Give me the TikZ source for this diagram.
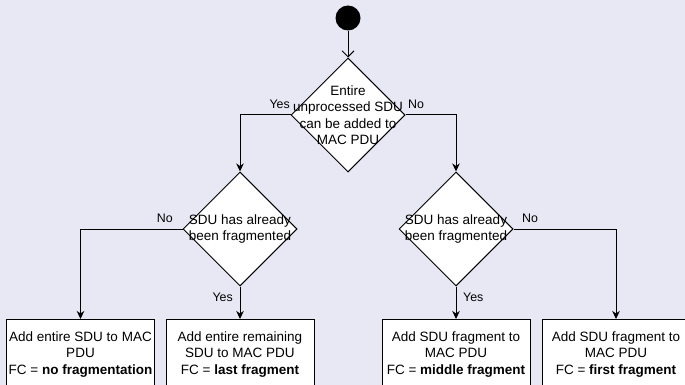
\documentclass[tikz,border=0pt]{standalone}
\usepackage{fontspec}
\setmainfont{Liberation Sans}
\usetikzlibrary{arrows.meta,shapes.geometric}
\definecolor{canvas}{RGB}{232,232,245}
\tikzset{
  flow/.style={line width=1pt, draw=black},
  arr/.style={flow, -{Stealth[length=8pt, width=7.5pt, inset=2.5pt]}},
  openarr/.style={flow, -{Straight Barb[length=6pt, width=12pt]}},
  decision/.style={diamond, draw=black, fill=white, line width=1pt,
    minimum width=114pt, minimum height=114pt, inner sep=0pt},
  dtext/.style={align=center, font=\fontsize{13.5}{16.5}\selectfont, inner sep=0pt},
  action/.style={rectangle, draw=black, fill=white, line width=1pt,
    minimum width=148pt, minimum height=70pt, inner sep=0pt, anchor=north,
    align=center, font=\fontsize{13.5}{16.5}\selectfont},
  lbl/.style={font=\fontsize{12.4}{14}\selectfont, inner sep=0pt}
}
\begin{document}
\begin{tikzpicture}[x=1pt, y=-1pt]
  \fill[canvas] (0,0) rectangle (685,385);
  \clip (0,0) rectangle (685,385);

  % start marker
  \node[circle, fill=black, minimum size=25pt, inner sep=0pt] (start) at (348,18) {};

  % decisions
  \node[decision] (d1) at (348,115) {};
  \node[dtext] (t1) at (348,115) {Entire\\unprocessed SDU\\can be added to\\MAC PDU};
  \node[decision] (d2) at (240,229) {};
  \node[dtext] (t2) at (240,229) {SDU has already\\been fragmented};
  \node[decision] (d3) at (456,229) {};
  \node[dtext] (t3) at (456,229) {SDU has already\\been fragmented};

  % actions
  \node[action] (b1) at (80.5,319) {Add entire SDU to MAC\\PDU\\FC = \textbf{no fragmentation}};
  \node[action] (b2) at (240,319) {Add entire remaining\\SDU to MAC PDU\\FC = \textbf{last fragment}};
  \node[action] (b3) at (456,319) {Add SDU fragment to\\MAC PDU\\FC = \textbf{middle fragment}};
  \node[action] (b4) at (616,319) {Add SDU fragment to\\MAC PDU\\FC = \textbf{first fragment}};

  % connectors
  \draw[openarr] (start) -- (d1.north);
  \draw[arr] (d1.west) -| (d2.north);
  \draw[arr] (d1.east) -| (d3.north);
  \draw[arr] (d2.west) -| (b1.north);
  \draw[arr] (d2.south) -- (b2.north);
  \draw[arr] (d3.south) -- (b3.north);
  \draw[arr] (d3.east) -| (b4.north);

  % branch labels
  \node[lbl, anchor=east] (y1) at (290,104) {Yes};
  \node[lbl, anchor=west] (n1) at (408,104) {No};
  \node[lbl, anchor=east] (n2) at (173,218) {No};
  \node[lbl, anchor=east] (y2) at (233,297) {Yes};
  \node[lbl, anchor=west] (y3) at (463,297) {Yes};
  \node[lbl, anchor=west] (n3) at (522,218) {No};
\end{tikzpicture}
\end{document}
